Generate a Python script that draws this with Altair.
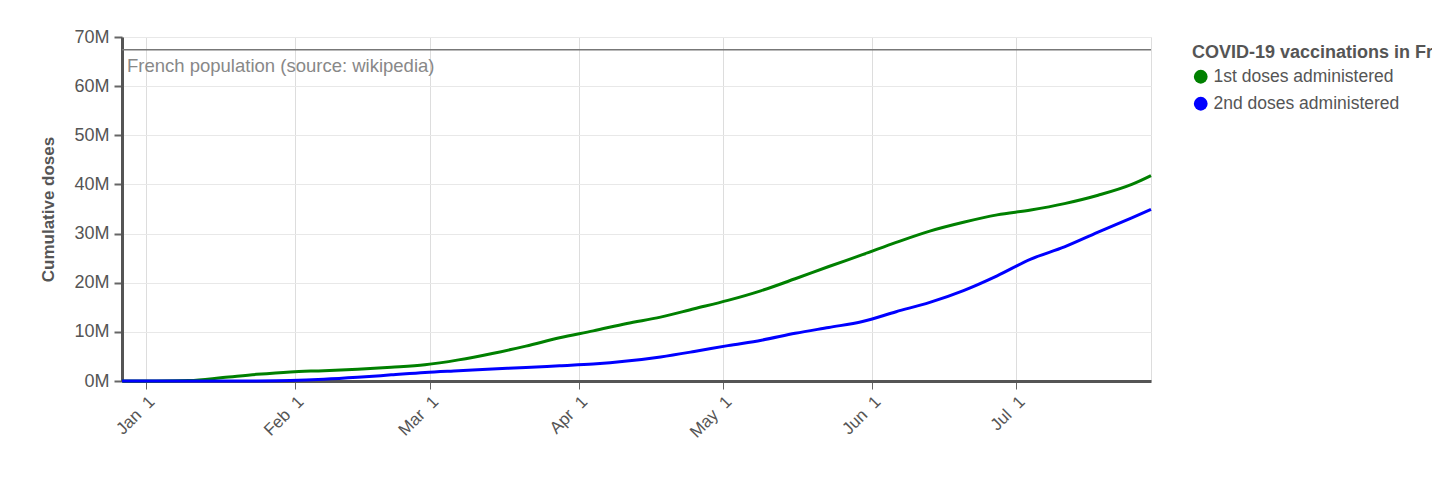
import altair as alt
import pandas as pd

# ---- data (millions of doses) ----
dates = [
    "2020-12-27", "2021-01-03", "2021-01-10", "2021-01-17", "2021-01-24",
    "2021-01-31", "2021-02-07", "2021-02-14", "2021-02-21", "2021-02-28",
    "2021-03-07", "2021-03-14", "2021-03-21", "2021-03-28", "2021-04-04",
    "2021-04-11", "2021-04-18", "2021-04-25", "2021-05-02", "2021-05-09",
    "2021-05-16", "2021-05-23", "2021-05-30", "2021-06-06", "2021-06-13",
    "2021-06-20", "2021-06-27", "2021-07-04", "2021-07-11", "2021-07-18",
    "2021-07-25", "2021-07-29",
]
first_doses = [
    0.0, 0.02, 0.1, 0.7, 1.35, 1.85, 2.1, 2.4, 2.8, 3.3,
    4.3, 5.6, 7.1, 8.8, 10.2, 11.7, 13.0, 14.7, 16.4, 18.4,
    20.8, 23.3, 25.7, 28.2, 30.5, 32.3, 33.8, 34.8, 36.1, 37.8,
    40.0, 41.8,
]
second_doses = [
    0.0, 0.0, 0.0, 0.0, 0.02, 0.1, 0.35, 0.75, 1.25, 1.75,
    2.1, 2.45, 2.75, 3.1, 3.45, 4.05, 4.9, 6.0, 7.2, 8.3,
    9.7, 10.9, 12.1, 14.1, 16.0, 18.4, 21.4, 24.8, 27.3, 30.3,
    33.2, 34.9,
]
series_names = ["1st doses administered", "2nd doses administered"]
series_colors = ["green", "blue"]
population = 67.4
population_label = "French population (source: wikipedia)"
y_ticks = [0, 10, 20, 30, 40, 50, 60, 70]
month_ticks = [(2021, m) for m in range(1, 8)]

n = len(dates)
df = pd.DataFrame({
    "date": dates + dates,
    "value": first_doses + second_doses,
    "series": [series_names[0]] * n + [series_names[1]] * n,
})
pop_df = pd.DataFrame({"value": [population], "label": [population_label]})

FONT = "Liberation Sans"
GREY = "#555555"

x_scale = alt.Scale(
    type="utc",
    domain=[alt.DateTime(year=2020, month=12, date=27, utc=True),
            alt.DateTime(year=2021, month=7, date=29, utc=True)],
)
y_scale = alt.Scale(domain=[0, 70], nice=False)
color_scale = alt.Scale(domain=series_names, range=series_colors)

x_axis = alt.Axis(
    values=[alt.DateTime(year=y, month=m, date=1, utc=True) for y, m in month_ticks],
    labelExpr="utcFormat(datum.value, '%b') + '\u00a0\u00a0' + utcFormat(datum.value, '%-d')",
    labelAngle=315,
    labelFontSize=17,
    labelColor=GREY,
    labelFont=FONT,
    labelPadding=4,
    tickSize=8,
    tickWidth=1,
    tickColor="#666666",
    domainColor=GREY,
    domainWidth=3,
    gridColor="#dddddd",
    gridWidth=1,
    title=None,
)
y_axis = alt.Axis(
    values=y_ticks,
    labelExpr="datum.value + 'M'",
    title="Cumulative doses",
    titleFontSize=17,
    titleFontWeight="bold",
    titleColor=GREY,
    titleFont=FONT,
    titlePadding=16,
    labelFontSize=18,
    labelColor=GREY,
    labelFont=FONT,
    labelPadding=5,
    tickSize=8,
    tickWidth=2,
    tickColor="#666666",
    domainColor=GREY,
    domainWidth=3,
    gridColor="#e8e8e8",
    gridWidth=1,
)

legend = alt.Legend(
    title="COVID-19 vaccinations in France",
    orient="none",
    legendX=1070,
    legendY=7,
    symbolType="circle",
    symbolSize=190,
    symbolStrokeWidth=0,
    symbolOpacity=1,
    titleFontSize=18,
    titleFontWeight="bold",
    titleColor=GREY,
    titleFont=FONT,
    titleLimit=1000,
    titlePadding=6,
    labelFontSize=17.5,
    labelColor=GREY,
    labelFont=FONT,
    labelLimit=1000,
    rowPadding=8,
)

lines = alt.Chart(df).mark_line(strokeWidth=3, interpolate="monotone").encode(
    x=alt.X("date:T", scale=x_scale, axis=x_axis),
    y=alt.Y("value:Q", scale=y_scale, axis=y_axis),
    color=alt.Color("series:N", scale=color_scale, legend=legend),
)

# zero-size filled circles that make the legend show filled dots
legend_pts = alt.Chart(df).mark_circle(size=0, opacity=1).encode(
    x=alt.X("date:T", scale=x_scale, axis=x_axis),
    y=alt.Y("value:Q", scale=y_scale, axis=y_axis),
    color=alt.Color("series:N", scale=color_scale, legend=legend),
)

rule = alt.Chart(pop_df).mark_rule(color="#777777", strokeWidth=1.5).encode(
    y=alt.Y("value:Q", scale=y_scale, axis=y_axis),
)
text = alt.Chart(pop_df).mark_text(
    align="left", baseline="top", dx=5, dy=7, fontSize=18.5, color="#888888", font=FONT
).encode(
    x=alt.value(0),
    y=alt.Y("value:Q", scale=y_scale, axis=y_axis),
    text="label:N",
)

chart = alt.layer(legend_pts, lines, rule, text).properties(
    width=1029,
    height=344,
    autosize=alt.AutoSizeParams(type="none"),
    padding={"left": 114, "top": 29, "right": 281, "bottom": 88},
).configure_view(strokeWidth=0, stroke="transparent").configure(font=FONT)

chart.save("out.html", embed_options={"renderer": "svg", "actions": False})
